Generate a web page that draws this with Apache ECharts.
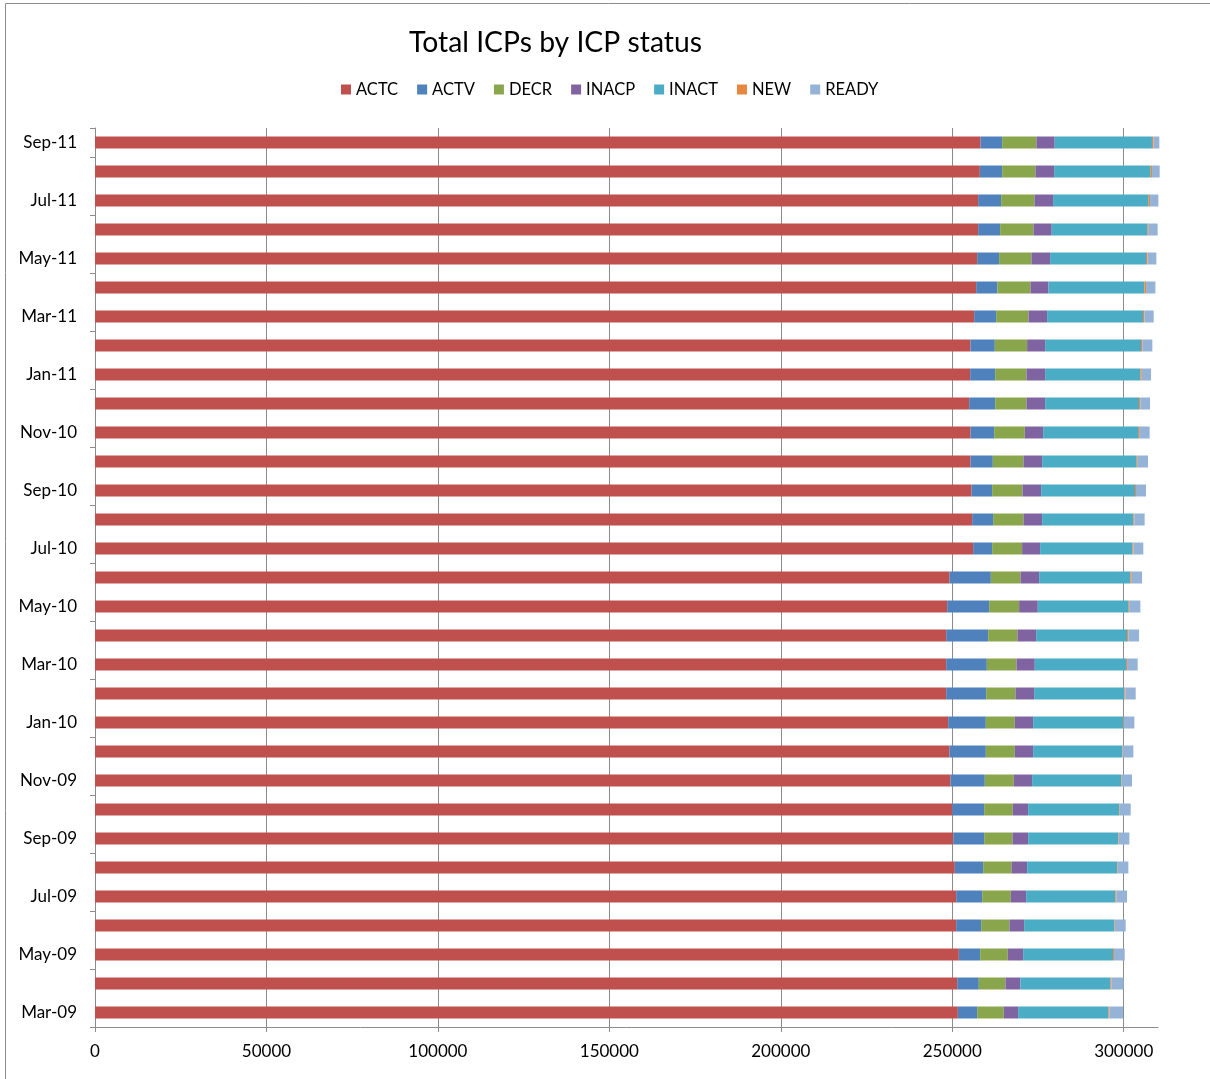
<!DOCTYPE html>
<html>
<head>
<meta charset="utf-8">
<script src="https://cdn.jsdelivr.net/npm/echarts@6/dist/echarts.min.js"></script>
<style>
html,body{margin:0;padding:0;background:#fff;}
#c{width:1210px;height:1079px;}
</style>
</head>
<body>
<div id="c"></div>
<script>
const categories = ['Mar-09','Apr-09','May-09','Jun-09','Jul-09','Aug-09','Sep-09','Oct-09','Nov-09','Dec-09',
  'Jan-10','Feb-10','Mar-10','Apr-10','May-10','Jun-10','Jul-10','Aug-10','Sep-10','Oct-10','Nov-10','Dec-10',
  'Jan-11','Feb-11','Mar-11','Apr-11','May-11','Jun-11','Jul-11','Aug-11','Sep-11'];
const seriesNames = ['ACTC','ACTV','DECR','INACP','INACT','NEW','READY'];
const ACTC = [251630,251430,251920,251140,251140,250750,250270,249980,249490,249200,248810,248230,248230,248230,248520,249200,256090,255800,255610,255320,255320,254930,255220,255320,256390,256970,257260,257550,257550,258040,258230];
const ACTV = [5630,6310,6220,7290,7580,8260,9030,9320,10000,10590,10980,11660,11850,12240,12240,12050,5540,6120,6020,6510,6900,7580,7290,7090,6410,6220,6410,6410,6700,6510,6310];
const DECR = [7770,7770,8060,8260,8350,8260,8260,8350,8450,8450,8450,8550,8650,8550,8740,8650,8740,8840,8840,8940,8940,9130,9130,9420,9420,9620,9420,9710,9710,9710,10000];
const INACP = [4180,4370,4470,4270,4470,4570,4570,4470,5340,5340,5340,5440,5340,5440,5440,5440,5250,5440,5440,5440,5340,5440,5440,5250,5440,5250,5440,5340,5440,5440,5340];
const INACT = [26320,26220,26220,26220,26030,26220,26220,26520,25930,25930,26230,26320,26610,26520,26520,26610,26900,26610,27390,27580,27680,27390,27780,27970,27970,27970,27970,27970,27880,28170,28360];
const NEW = [290,290,290,190,290,190,190,190,190,190,190,290,290,390,290,390,290,290,290,290,290,390,390,390,390,490,400,300,400,390,400];
const READY = [3980,3590,3110,3210,3110,3110,3110,3210,3010,3110,3110,3010,3110,3110,3110,3010,2910,3010,2910,3010,3110,2820,2720,2910,2720,2720,2620,2620,2430,2230,1750];
const xTicks = [0,50000,100000,150000,200000,250000,300000];
const colors = ['#C0504D','#4F81BD','#8AA64C','#8064A2','#4BACC6','#E8873F','#95B3D7'];

const dataBySeries = [ACTC, ACTV, DECR, INACP, INACT, NEW, READY];
const FONT = 'Lato, "Open Sans", sans-serif';

const chart = echarts.init(document.getElementById('c'), null, {renderer:'canvas'});
chart.setOption({
  animation:false,
  color: colors,
  title:{
    text:'Total ICPs by ICP status',
    left:404, top:24,
    textStyle:{fontFamily:FONT, fontSize:28.3, fontWeight:'normal', color:'#000'}
  },
  legend:{
    data: seriesNames,
    left:341, top:81,
    itemWidth:10, itemHeight:10, itemGap:19,
    icon:'rect',
    textStyle:{fontFamily:FONT, fontSize:16.5, color:'#000'},
    padding:0,
    selectedMode:false
  },
  grid:{left:95, right:52, top:128, bottom:52, containLabel:false},
  xAxis:{
    type:'value', min:0, max:310000, interval:50000,
    axisLine:{show:true, lineStyle:{color:'#8c8c8c', width:1}},
    axisTick:{show:true, length:5, lineStyle:{color:'#8c8c8c'}, customValues: xTicks},
    axisLabel:{fontFamily:FONT, fontSize:17, color:'#000', margin:16, customValues: xTicks,
      formatter: v => String(v)},
    splitLine:{show:true, lineStyle:{color:'#8c8c8c', width:1}}
  },
  yAxis:{
    type:'category', data: categories,
    axisLine:{show:true, lineStyle:{color:'#8c8c8c', width:1}},
    axisTick:{show:true, interval:1, length:5, alignWithLabel:false, lineStyle:{color:'#8c8c8c'}},
    axisLabel:{interval:1, fontFamily:FONT, fontSize:17, color:'#000', margin:18},
    splitLine:{show:false}
  },
  series: seriesNames.map((n,i)=>({
    name:n, type:'bar', stack:'total', barWidth:12, clip:false,
    data: dataBySeries[i],
    itemStyle:{color:colors[i]}
  })),
  graphic:[{
    type:'rect', left:3, top:1, silent:true,
    shape:{x:0,y:0,width:1212,height:1076},
    style:{fill:'none', stroke:'#8c8c8c', lineWidth:1}
  }]
});
</script>
</body>
</html>
